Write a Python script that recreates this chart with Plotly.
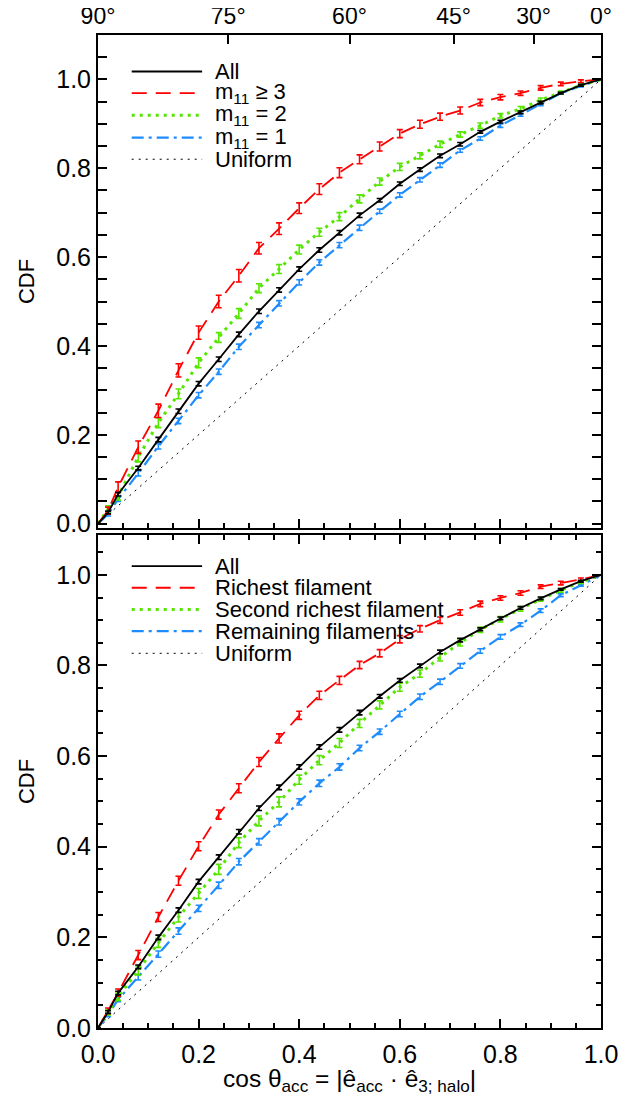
import plotly.graph_objects as go

# ---------------- data ----------------
cos_theta = [0, 0.02, 0.04, 0.08, 0.12, 0.16, 0.20, 0.24, 0.28, 0.32, 0.36, 0.40, 0.44, 0.48,
             0.52, 0.56, 0.60, 0.64, 0.68, 0.72, 0.76, 0.80, 0.84, 0.88, 0.92, 0.96, 1.0]

# top panel: split by m11
top_all = [0, .025, .066, .125, .189, .253, .315, .370, .426, .478, .526, .573, .616, .655,
           .694, .728, .765, .797, .828, .854, .882, .905, .926, .948, .969, .987, 1.0]
top_m3 = [0, .029, .082, .172, .254, .345, .430, .500, .558, .620, .664, .710, .753, .790,
          .820, .849, .878, .899, .916, .930, .948, .960, .969, .981, .990, .996, 1.0]
top_m2 = [0, .033, .062, .150, .227, .292, .362, .419, .473, .530, .573, .617, .656, .691,
          .731, .770, .803, .828, .854, .876, .896, .918, .934, .954, .971, .987, 1.0]
top_m1 = [0, .021, .055, .113, .174, .231, .289, .342, .398, .447, .496, .543, .588, .627,
          .666, .703, .740, .774, .807, .840, .867, .896, .920, .944, .969, .985, 1.0]

top_all_err = [0, .003, .004, .004, .005, .005, .005, .005, .005, .005, .005, .005, .005, .005,
               .005, .004, .004, .004, .004, .004, .003, .003, .003, .003, .002, .002, 0]
top_m3_err = [0, .008, .012, .014, .015, .015, .015, .014, .014, .013, .013, .012, .012, .011,
              .010, .010, .009, .009, .008, .008, .007, .006, .005, .005, .004, .003, 0]
top_m2_err = [0, .007, .009, .011, .011, .011, .011, .011, .011, .010, .010, .010, .009, .009,
              .009, .008, .008, .007, .007, .006, .006, .005, .005, .004, .003, .002, 0]
top_m1_err = [0, .004, .005, .006, .006, .006, .006, .006, .006, .006, .006, .006, .006, .006,
              .006, .005, .005, .005, .005, .004, .004, .004, .003, .003, .002, .002, 0]

# bottom panel: split by filament
bot_all = [0, .035, .077, .135, .200, .260, .323, .377, .433, .485, .531, .576, .620, .658,
           .696, .732, .767, .799, .830, .856, .880, .904, .927, .948, .968, .986, 1.0]
bot_rich = [0, .038, .078, .161, .245, .325, .401, .471, .529, .587, .639, .690, .734, .767,
            .801, .827, .858, .881, .900, .917, .936, .949, .960, .974, .982, .990, 1.0]
bot_second = [0, .035, .069, .127, .188, .245, .297, .350, .409, .457, .499, .548, .591, .629,
              .672, .713, .752, .782, .818, .850, .879, .902, .925, .946, .966, .984, 1.0]
bot_rest = [0, .029, .063, .112, .163, .214, .264, .315, .367, .411, .455, .499, .540, .576,
            .618, .654, .693, .731, .764, .799, .832, .863, .890, .921, .955, .977, 1.0]

bot_all_err = [0, .003, .004, .004, .005, .005, .005, .005, .005, .005, .005, .005, .005, .005,
               .005, .004, .004, .004, .004, .004, .003, .003, .003, .003, .002, .002, 0]
bot_rich_err = [0, .006, .008, .010, .010, .010, .010, .010, .010, .010, .010, .009, .009, .009,
                .008, .008, .008, .007, .007, .006, .006, .005, .005, .004, .004, .003, 0]
bot_second_err = [0, .006, .008, .010, .010, .011, .011, .011, .011, .011, .011, .010, .010, .010,
                  .009, .009, .009, .008, .008, .007, .006, .006, .005, .004, .004, .003, 0]
bot_rest_err = [0, .004, .005, .006, .007, .007, .007, .007, .007, .007, .007, .007, .007, .007,
                .006, .006, .006, .006, .006, .005, .005, .005, .004, .004, .003, .002, 0]

uniform_x = [0, 1]
uniform_y = [0, 1]

top_names = ["All", "m<sub>11</sub> ≥ 3", "m<sub>11</sub> = 2", "m<sub>11</sub> = 1", "Uniform"]
bot_names = ["All", "Richest filament", "Second richest filament", "Remaining filaments", "Uniform"]

angle_ticks = [0, 0.258819, 0.5, 0.707107, 0.866025, 1.0]
angle_labels = ["90°", "75°", "60°", "45°", "30°", "0°"]

# ---------------- styles ----------------
BLACK, RED, GREEN, BLUE = "#000000", "#FF0000", "#55E600", "#1E8CFF"
styles = [
    dict(color=BLACK, width=1.8, dash="solid"),
    dict(color=RED, width=1.8, dash="15px,9px"),
    dict(color=GREEN, width=3, dash="3px,5px"),
    dict(color=BLUE, width=2.2, dash="12px,5px,3px,5px"),
    dict(color=BLACK, width=1, dash="2px,5px"),
]
FONT = "Liberation Sans, Arial, Helvetica, sans-serif"
FS_TICK = 25
FS_TEXT = 22

fig = go.Figure()


def add_panel(series, errors, xa, ya):
    fig.add_trace(go.Scatter(x=uniform_x, y=uniform_y, mode="lines", line=styles[4],
                             xaxis=xa, yaxis=ya, showlegend=False, hoverinfo="skip"))
    for i in [3, 2, 1, 0]:
        st = styles[i]
        fig.add_trace(go.Scatter(
            x=cos_theta, y=series[i], mode="lines", line=st,
            error_y=dict(type="data", array=errors[i], visible=True, color=st["color"],
                         thickness=1.6, width=3),
            xaxis=xa, yaxis=ya, showlegend=False))


add_panel([top_all, top_m3, top_m2, top_m1],
          [top_all_err, top_m3_err, top_m2_err, top_m1_err], "x", "y")
add_panel([bot_all, bot_rich, bot_second, bot_rest],
          [bot_all_err, bot_rich_err, bot_second_err, bot_rest_err], "x2", "y2")

# ---------------- manual legends ----------------
shapes, annotations = [], []
leg_top_rows = [0.926, 0.882, 0.837, 0.792, 0.748]
leg_bot_rows = [0.937, 0.893, 0.849, 0.805, 0.760]
for rows, names, xr, yr in [(leg_top_rows, top_names, "x domain", "y domain"),
                             (leg_bot_rows, bot_names, "x2 domain", "y2 domain")]:
    for k, (yy, nm) in enumerate(zip(rows, names)):
        st = styles[k]
        shapes.append(dict(type="line", xref=xr, yref=yr, x0=0.067, x1=0.207, y0=yy, y1=yy,
                           line=dict(color=st["color"], width=st["width"], dash=st["dash"])))
        annotations.append(dict(xref=xr, yref=yr, x=0.229, y=yy, text=nm, showarrow=False,
                                xanchor="left", yanchor="middle",
                                font=dict(family=FONT, size=FS_TEXT, color="black")))

annotations.append(dict(xref="paper", yref="paper", x=0.5, y=-0.0524,
                        text="cos θ<sub>acc</sub> = |ê<sub>acc</sub> · ê<sub>3; halo</sub>|",
                        showarrow=False, xanchor="center", yanchor="middle",
                        font=dict(family=FONT, size=24.5, color="black")))

common_x = dict(range=[0, 1], dtick=0.2, ticks="inside", ticklen=9, tickwidth=1.5,
                linecolor="black", linewidth=2, showgrid=False, zeroline=False, tickformat=".1f",
                automargin=False,
                minor=dict(dtick=0.05, ticks="inside", ticklen=5, tickwidth=1.5, tickcolor="black"),
                tickcolor="black", tickfont=dict(family=FONT, size=FS_TICK, color="black"))
common_y = dict(tick0=0, dtick=0.2, ticks="inside", ticklen=9,
                tickwidth=1.5, linecolor="black", linewidth=2, showgrid=False, zeroline=False,
                mirror="allticks", tickformat=".1f", automargin=False,
                minor=dict(dtick=0.05, ticks="inside", ticklen=5, tickwidth=1.5, tickcolor="black"),
                tickcolor="black", tickfont=dict(family=FONT, size=FS_TICK, color="black"),
                title=dict(text="CDF", font=dict(family=FONT, size=FS_TEXT, color="black"),
                           standoff=16))

fig.update_layout(
    width=631, height=1089,
    margin=dict(l=90, r=38, t=27, b=69),
    paper_bgcolor="white", plot_bgcolor="white",
    showlegend=False,
    xaxis=dict(common_x, domain=[0, 1], anchor="y", showticklabels=False, mirror=False),
    yaxis=dict(common_y, domain=[0.5035, 1], anchor="x", range=[-0.01, 1.1]),
    xaxis2=dict(common_x, domain=[0, 1], anchor="y2", mirror="allticks", ticklabelstandoff=3),
    yaxis2=dict(common_y, domain=[0, 0.4965], anchor="x2", range=[0, 1.088]),
    xaxis3=dict(range=[0, 1], overlaying="x", anchor="y", side="top", automargin=False,
                tickvals=angle_ticks, ticktext=angle_labels, ticks="inside", ticklen=9,
                tickwidth=1.5, tickcolor="black", linecolor="black", linewidth=2,
                showgrid=False, zeroline=False, ticklabelstandoff=0,
                tickfont=dict(family=FONT, size=23, color="black")),
    shapes=shapes, annotations=annotations,
)
fig.add_trace(go.Scatter(x=[], y=[], xaxis="x3", yaxis="y", showlegend=False))

fig.write_html("out.html")
